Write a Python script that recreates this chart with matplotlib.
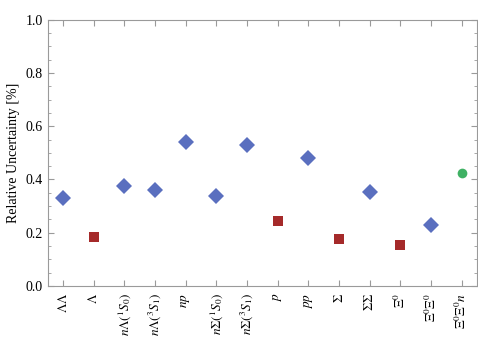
import matplotlib
matplotlib.use('Agg')
import matplotlib.pyplot as plt
from matplotlib.ticker import MultipleLocator

plt.rcParams['font.family'] = 'Liberation Serif'
plt.rcParams['mathtext.fontset'] = 'stix'

# categories along the x axis
labels = [r'$\Lambda\Lambda$', r'$\Lambda$', r'$n\Lambda(^1S_0)$', r'$n\Lambda(^3S_1)$',
          r'$np$', r'$n\Sigma(^1S_0)$', r'$n\Sigma(^3S_1)$', r'$p$', r'$pp$',
          r'$\Sigma$', r'$\Sigma\Sigma$', r'$\Xi^0$', r'$\Xi^0\Xi^0$', r'$\Xi^0\Xi^0n$']

# two-body systems (blue diamonds)
pair_idx = [0, 2, 3, 4, 5, 6, 8, 10, 12]
pair_val = [0.330, 0.377, 0.362, 0.539, 0.336, 0.529, 0.482, 0.351, 0.230]

# single particles (red squares)
single_idx = [1, 7, 9, 11]
single_val = [0.182, 0.243, 0.177, 0.154]

# three-body (green circle)
triple_idx = [13]
triple_val = [0.426]

fig = plt.figure(figsize=(4.78, 3.49), dpi=100)
ax = fig.add_axes([0.100, 0.181, 0.898, 0.762])

ax.plot(pair_idx, pair_val, 'D', color='#5A6FBF', markersize=8.3, markeredgewidth=0)
ax.plot(single_idx, single_val, 's', color='#A52A2A', markersize=6.5, markeredgewidth=0)
ax.plot(triple_idx, triple_val, 'o', color='#3FB164', markersize=7, markeredgewidth=0)

ax.set_xlim(-0.5, 13.5)
ax.set_ylim(0, 1.0)
ax.set_xticks(range(len(labels)))
ax.set_xticklabels(labels, rotation=90, fontsize=9.5)
ax.yaxis.set_major_locator(MultipleLocator(0.2))
ax.yaxis.set_minor_locator(MultipleLocator(0.05))
ax.set_yticks([0, 0.2, 0.4, 0.6, 0.8, 1.0])
ax.set_yticklabels(['0.0', '0.2', '0.4', '0.6', '0.8', '1.0'], fontsize=10)
ax.set_ylabel('Relative Uncertainty [%]', fontsize=10)

for s in ax.spines.values():
    s.set_color('#9a9a9a')
ax.tick_params(which='both', direction='in', colors='#9a9a9a', labelcolor='black',
               top=True, right=True)
ax.tick_params(which='major', length=4, width=0.8)
ax.tick_params(which='minor', length=2.2, width=0.6)
ax.tick_params(axis='x', pad=5)

fig.savefig('out.png', dpi=100)
